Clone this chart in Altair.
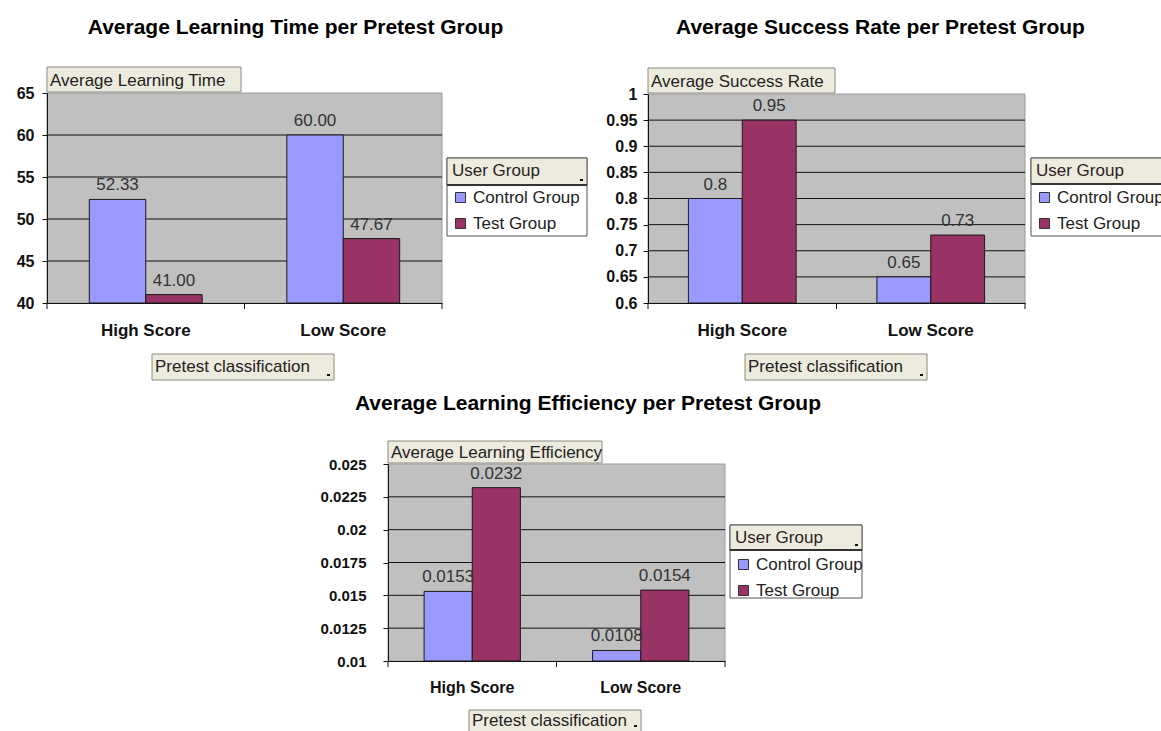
import altair as alt
import pandas as pd

# ---------------- data ----------------
categories = ["High Score", "Low Score"]
groups = ["Control Group", "Test Group"]
colors = ["#9999FF", "#993366"]

time_control = [52.33, 60.00]
time_test = [41.00, 47.67]
time_ticks = [40, 45, 50, 55, 60, 65]

success_control = [0.8, 0.65]
success_test = [0.95, 0.73]
success_ticks = [0.6, 0.65, 0.7, 0.75, 0.8, 0.85, 0.9, 0.95, 1]

eff_control = [0.0153, 0.0108]
eff_test = [0.0232, 0.0154]
eff_ticks = [0.01, 0.0125, 0.015, 0.0175, 0.02, 0.0225, 0.025]

titles = [
    "Average Learning Time per Pretest Group",
    "Average Success Rate per Pretest Group",
    "Average Learning Efficiency per Pretest Group",
]
y_titles = ["Average Learning Time", "Average Success Rate", "Average Learning Efficiency"]
x_title = "Pretest classification"
legend_title = "User Group"

# ---------------- layout / style ----------------
W, H = 1161, 731
FONT = "Liberation Sans"
BEIGE = "#EDEBDD"
PLOT_BG = "#C0C0C0"

LAYOUT = [
    dict(L=47, R=442, T=93, B=303, title=(295.5, 34), ybox=(47, 241, 67, 92),
         xbox=(152, 334, 354, 380), xtext=367, leg=(447, 587, 158, 236, 185),
         ylab=16, ypad=8, xlab=17, xpad=19, fmt=".2f"),
    dict(L=648, R=1025, T=94, B=303, title=(880.5, 34), ybox=(648, 835, 68, 93),
         xbox=(745, 927, 354, 380), xtext=367, leg=(1031, 1190, 158, 236, 184),
         ylab=16, ypad=6, xlab=17, xpad=19, fmt=None),
    dict(L=388, R=725, T=464, B=661, title=(588, 410), ybox=(388, 602, 441, 463),
         xbox=(469, 641, 710, 740), xtext=721, leg=(730, 862, 525, 598, 550),
         ylab=15, ypad=17, xlab=16, xpad=18, fmt=None),
]

one = pd.DataFrame({"k": [0]})


def box(x0, x1, y0, y1, fill, stroke=None, sw=1):
    kw = dict(fill=fill, strokeWidth=sw)
    if stroke:
        kw["stroke"] = stroke
    return alt.Chart(one).mark_rect(**kw).encode(
        x=alt.value(x0), x2=alt.value(x1), y=alt.value(y0), y2=alt.value(y1))


def hline(x0, x1, y, color="#333", sw=1):
    return alt.Chart(one).mark_rule(color=color, strokeWidth=sw).encode(
        x=alt.value(x0), x2=alt.value(x1), y=alt.value(y))


def label(text, x, y, size, weight="normal", align="left", baseline="middle", color="#222"):
    return alt.Chart(pd.DataFrame({"t": [text]})).mark_text(
        font=FONT, fontSize=size, fontWeight=weight, align=align,
        baseline=baseline, color=color).encode(
        x=alt.value(x), y=alt.value(y), text="t:N")


def decorations(i):
    c = LAYOUT[i]
    out = []
    tx, ty = c["title"]
    out.append(label(titles[i], tx, ty, 21, weight="bold", align="center",
                     baseline="alphabetic", color="#000"))
    x0, x1, y0, y1 = c["ybox"]
    out.append(box(x0, x1, y0, y1, BEIGE, "#8a8a80"))
    out.append(label(y_titles[i], x0 + 3, (y0 + y1) / 2 + 1, 17, color="#222"))
    x0, x1, y0, y1 = c["xbox"]
    out.append(box(x0, x1, y0, y1, BEIGE, "#8a8a80"))
    out.append(label(x_title, x0 + 3, c["xtext"], 17, color="#222"))
    out.append(box(x1 - 7, x1 - 4, min(y1, H) - 6, min(y1, H) - 4, "#111"))
    lx0, lx1, ly0, ly1, lh = c["leg"]
    out.append(box(lx0, lx1, ly0, ly1, "#FFFFFF", "#555"))
    out.append(box(lx0, lx1, ly0, lh, BEIGE, "#555"))
    out.append(hline(lx0, lx1, lh, "#333", 2))
    out.append(box(lx1 - 7, lx1 - 4, lh - 6, lh - 4, "#111"))
    return out


def panel(i, ctrl, test, ticks):
    c = LAYOUT[i]
    df = pd.DataFrame({
        "cat": categories * 2,
        "group": [groups[0]] * 2 + [groups[1]] * 2,
        "value": ctrl + test,
    })
    xs = alt.Scale(domain=categories, range=[c["L"], c["R"]], paddingInner=0, paddingOuter=0)
    ys = alt.Scale(domain=[ticks[0], ticks[-1]], range=[c["B"], c["T"]], nice=False, zero=False)
    xo = alt.Scale(domain=groups, paddingInner=0, paddingOuter=0.75)
    xa = alt.Axis(orient="bottom", offset=c["B"] - H, ticks=False, grid=False,
                  domainColor="#111", domainWidth=1, labelFont=FONT,
                  labelFontSize=c["xlab"], labelFontWeight="bold", labelColor="#111",
                  labelPadding=c["xpad"], labelAngle=0, zindex=1)
    ya = alt.Axis(orient="left", offset=-c["L"], values=ticks, labelExpr="'' + datum.value",
                  grid=False, domainColor="#111", tickColor="#111", tickSize=5,
                  labelFont=FONT, labelFontSize=c["ylab"], labelFontWeight="bold",
                  labelColor="#111", labelPadding=c["ypad"], labelOverlap=False, zindex=1)
    X = alt.X("cat:N", scale=xs, axis=xa, title=None)
    Y = alt.Y("value:Q", scale=ys, axis=ya, title=None)
    XO = alt.XOffset("group:N", scale=xo, sort=groups)

    lx0, lx1, ly0, ly1, lh = c["leg"]
    legend = alt.Legend(orient="none", legendX=lx0, legendY=ly0, title=legend_title,
                        titleFont=FONT, titleFontSize=17, titleFontWeight="normal",
                        titleColor="#2a2222", labelFont=FONT, labelFontSize=17,
                        labelColor="#222", symbolType="square", symbolSize=100,
                        symbolStrokeColor="#333", symbolStrokeWidth=1, symbolOpacity=1,
                        padding=5, titlePadding=9, rowPadding=8, labelOffset=4)

    bg = box(c["L"], c["R"], c["T"], c["B"], PLOT_BG, "#9a9a9a")
    grid = alt.Chart(pd.DataFrame({"value": ticks[1:-1]})).mark_rule(
        color="#111", strokeWidth=1).encode(y=Y, x=alt.value(c["L"]), x2=alt.value(c["R"]))
    bars = alt.Chart(df).mark_bar(stroke="#1a1a1a", strokeWidth=1).encode(
        x=X, xOffset=XO, y=Y, y2=alt.datum(ticks[0]),
        color=alt.Color("group:N", scale=alt.Scale(domain=groups, range=colors),
                        legend=legend, title=legend_title))
    tkw = {"format": c["fmt"]} if c["fmt"] else {}
    labels = alt.Chart(df).mark_text(font=FONT, fontSize=17, color="#333", dy=-9,
                                      baseline="alphabetic").encode(
        x=X, xOffset=XO, y=Y, text=alt.Text("value:Q", **tkw))
    cats = pd.DataFrame({"cat": categories})
    tick0 = alt.Chart(cats).mark_rule(color="#111").encode(
        x=alt.X("cat:N", scale=xs, axis=xa, title=None, bandPosition=0),
        y=alt.value(c["B"]), y2=alt.value(c["B"] + 6))
    tick1 = alt.Chart(cats).mark_rule(color="#111").encode(
        x=alt.X("cat:N", scale=xs, axis=xa, title=None, bandPosition=1),
        y=alt.value(c["B"]), y2=alt.value(c["B"] + 6))
    return alt.layer(bg, grid, bars, labels, tick0, tick1)


decor = decorations(0) + decorations(1) + decorations(2)
p1 = panel(0, time_control, time_test, time_ticks)
p2 = panel(1, success_control, success_test, success_ticks)
p3 = panel(2, eff_control, eff_test, eff_ticks)

chart = alt.layer(*decor, p1, p2, p3).resolve_scale(
    x="independent", y="independent", xOffset="independent", color="independent"
).resolve_axis(
    x="independent", y="independent"
).resolve_legend(
    color="independent"
).properties(
    width=W, height=H, autosize=alt.AutoSizeParams(type="none"), padding=0,
    background="white"
).configure_view(strokeWidth=0)

chart.save("out.html", embed_options={"renderer": "svg", "actions": False})
